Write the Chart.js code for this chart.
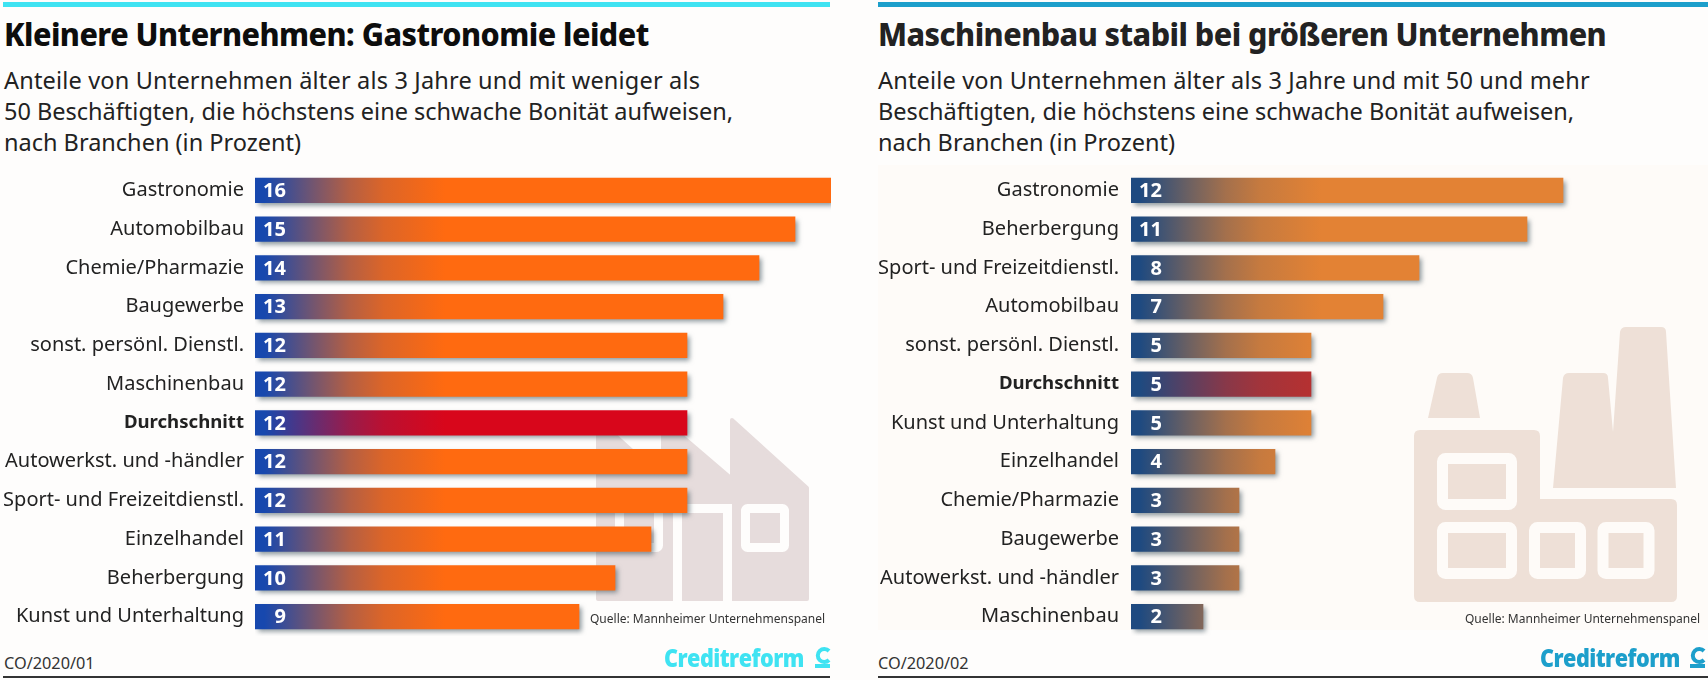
<!DOCTYPE html>
<html lang="de"><head><meta charset="utf-8">
<script src="https://cdn.jsdelivr.net/npm/chart.js@4"></script>
<style>
html,body{margin:0;padding:0;width:1708px;height:680px;overflow:hidden;background:#fefdfc;font-family:"Noto Sans",sans-serif;color:#1c1c1c}
.rule{position:absolute;top:2px;height:5px}
h1{position:absolute;margin:0;top:14px;font:800 32px/40px "Noto Sans",sans-serif;color:#0d0d0d;white-space:nowrap;letter-spacing:-.55px;transform:scaleX(.952);transform-origin:0 0}
.sub{position:absolute;top:65px;font:400 23.5px/31px "Noto Sans",sans-serif;white-space:pre;color:#222}
.sub span{letter-spacing:.18px}
.src{position:absolute;top:611px;font:400 12px/16px "Noto Sans",sans-serif;color:#333;white-space:nowrap}
.code{position:absolute;top:653px;font:400 16.3px/20px "Noto Sans",sans-serif;color:#333}
.logo{position:absolute;top:643px;font:800 24px/30px "Open Sans",sans-serif;letter-spacing:-.6px;white-space:nowrap;transform:scaleX(.9);transform-origin:0 0}
.base{position:absolute;top:676px;height:2px;background:#333}
canvas{position:absolute;top:165px}
svg{position:absolute;left:0;top:0}
</style></head><body>
<svg width="1708" height="680" viewBox="0 0 1708 680">
  <rect x="878" y="165" width="830" height="465" fill="#fefbf8"/>
  <g transform="translate(596 418)">
    <path fill="#e6dcdc" stroke="#e6dcdc" stroke-width="4" stroke-linejoin="round" d="M2 2L67 61V2L136 61V2L211 70V181H2Z"/>
    <g fill="none" stroke="#fefdfc" stroke-width="9">
      <rect x="23.5" y="90.5" width="39" height="39" rx="2"/>
      <path d="M81.500 185V90.500H131.500V185"/>
      <rect x="149.500" y="90.500" width="39" height="39" rx="2"/>
    </g>
  </g>
  <g fill="#eee0d7">
    <path d="M1428 418L1437 378Q1438 373 1443 373H1467Q1472 373 1473 378L1480 418Z"/>
    <path d="M1553 488L1563 378Q1564 373 1569 373H1603Q1608 373 1608 378L1613 432L1620 332Q1621 327 1626 327H1661Q1666 327 1666 332L1676 488Z"/>
    <path d="M1420 430H1534Q1540 430 1540 436V499H1671Q1677 499 1677 505V596Q1677 602 1671 602H1420Q1414 602 1414 596V436Q1414 430 1420 430Z"/>
  </g>
  <g fill="none" stroke="#fefbf8" stroke-width="11">
    <rect x="1442.500" y="458.500" width="69" height="46" rx="3"/>
    <rect x="1442.500" y="527.500" width="69" height="46" rx="3"/>
    <rect x="1534.500" y="527.500" width="46" height="46" rx="3"/>
    <rect x="1603" y="527.500" width="46" height="46" rx="3"/>
  </g>
  <g fill="none" stroke-width="4">
    <path stroke="#3fe3f2" d="M829 651A6.500 6.500 0 1 0 829 660"/>
    <path stroke="#3fe3f2" d="M815 666H830"/>
    <path stroke="#1d9fcb" d="M1704 651A6.500 6.500 0 1 0 1704 660"/>
    <path stroke="#1d9fcb" d="M1690 666H1705"/>
  </g>
</svg>
<div class="rule" style="left:3px;width:827px;background:#3fe3f2"></div>
<div class="rule" style="left:878px;width:830px;background:#1d9fcb"></div>
<h1 style="left:4px">Kleinere Unternehmen: Gastronomie leidet</h1>
<h1 style="left:878px;color:#222">Maschinenbau stabil bei größeren Unternehmen</h1>
<div class="sub" style="left:4px"><span>Anteile von Unternehmen älter als 3 Jahre und mit weniger als</span>
50 Beschäftigten, die höchstens eine schwache Bonität aufweisen,
nach Branchen (in Prozent)</div>
<div class="sub" style="left:878px"><span>Anteile von Unternehmen älter als 3 Jahre und mit 50 und mehr</span>
Beschäftigten, die höchstens eine schwache Bonität aufweisen,
nach Branchen (in Prozent)</div>

<canvas id="left" width="851" height="480" style="left:0"></canvas>
<canvas id="right" width="851" height="480" style="left:876px"></canvas>

<div class="src" style="left:590px">Quelle: Mannheimer Unternehmenspanel</div>
<div class="src" style="left:1465px">Quelle: Mannheimer Unternehmenspanel</div>
<div class="code" style="left:4px">CO/2020/01</div>
<div class="code" style="left:878px">CO/2020/02</div>
<div class="logo" style="left:664px;color:#3fe3f2">Creditreform</div>
<div class="logo" style="left:1540px;color:#1d9fcb">Creditreform</div>
<div class="base" style="left:3px;width:827px"></div>
<div class="base" style="left:878px;width:830px"></div>

<script>
const leftCategories = ["Gastronomie","Automobilbau","Chemie/Pharmazie","Baugewerbe","sonst. persönl. Dienstl.","Maschinenbau","Durchschnitt","Autowerkst. und -händler","Sport- und Freizeitdienstl.","Einzelhandel","Beherbergung","Kunst und Unterhaltung"];
const leftValues = [16,15,14,13,12,12,12,12,12,11,10,9];
const rightCategories = ["Gastronomie","Beherbergung","Sport- und Freizeitdienstl.","Automobilbau","sonst. persönl. Dienstl.","Durchschnitt","Kunst und Unterhaltung","Einzelhandel","Chemie/Pharmazie","Baugewerbe","Autowerkst. und -händler","Maschinenbau"];
const rightValues = [12,11,8,7,5,5,5,4,3,3,3,2];
const AVERAGE = "Durchschnitt";
const leftPalette = {start:"#1748ae", end:"#ff6a10", avg:"#d8061b"};
const rightPalette = {start:"#1f4a80", end:"#e38234", avg:"#b9302f"};
const gradientStops = [[0,0],[.05,0],[.32,.42],[.5,.68],[.68,.85],[1,1]];

function mix(a,b,t){
  const p=h=>[1,3,5].map(i=>parseInt(h.substr(i,2),16));
  const A=p(a),B=p(b);
  return "rgb("+A.map((v,i)=>Math.round(v+(B[i]-v)*t)).join(",")+")";
}
const decor = {
  id:"decor",
  beforeDatasetDraw(c){ const x=c.ctx; x.save(); x.shadowColor="rgba(60,80,90,.6)"; x.shadowOffsetX=3; x.shadowOffsetY=3; x.shadowBlur=5; },
  afterDatasetDraw(c){ c.ctx.restore(); },
  afterDatasetsDraw(c){
    const x=c.ctx, meta=c.getDatasetMeta(0);
    x.save(); x.fillStyle="#fff"; x.font='700 20px "Noto Sans",sans-serif'; x.textBaseline="middle"; x.textAlign="right";
    meta.data.forEach((b,i)=>x.fillText(c.data.datasets[0].data[i], b.base+31, b.y+1));
    x.restore();
  }
};
function build(id, cats, vals, pal, pad){
  new Chart(document.getElementById(id),{
    type:"bar",
    data:{labels:cats,datasets:[{data:vals,barThickness:24.5,borderWidth:0,
      backgroundColor(ctx){
        const a=ctx.chart.chartArea; if(!a) return pal.end;
        const g=ctx.chart.ctx.createLinearGradient(a.left,0,a.left+190,0);
        const target=cats[ctx.dataIndex]===AVERAGE?pal.avg:pal.end;
        gradientStops.forEach(([o,t])=>g.addColorStop(o,mix(pal.start,target,t)));
        return g;
      }}]},
    options:{
      indexAxis:"y",responsive:false,animation:false,
      layout:{padding:{top:6,bottom:9,left:0,right:20}},
      plugins:{legend:{display:false},tooltip:{enabled:false}},
      scales:{
        x:{display:false,min:0,max:16},
        y:{
          afterFit(s){s.width=255;s.paddingTop=0;s.paddingBottom=0;},
          grid:{display:false,drawTicks:false},border:{display:false},
          ticks:{padding:pad,autoSkip:false,color:"#222",
            font(ctx){const avg=cats[ctx.index]===AVERAGE;return {family:'"Noto Sans",sans-serif',size:avg?18.6:20,weight:avg?"700":"400"};}}
        }
      }
    },
    plugins:[decor]
  });
}
build("left",leftCategories,leftValues,leftPalette,11);
build("right",rightCategories,rightValues,rightPalette,12);
</script>
</body></html>
